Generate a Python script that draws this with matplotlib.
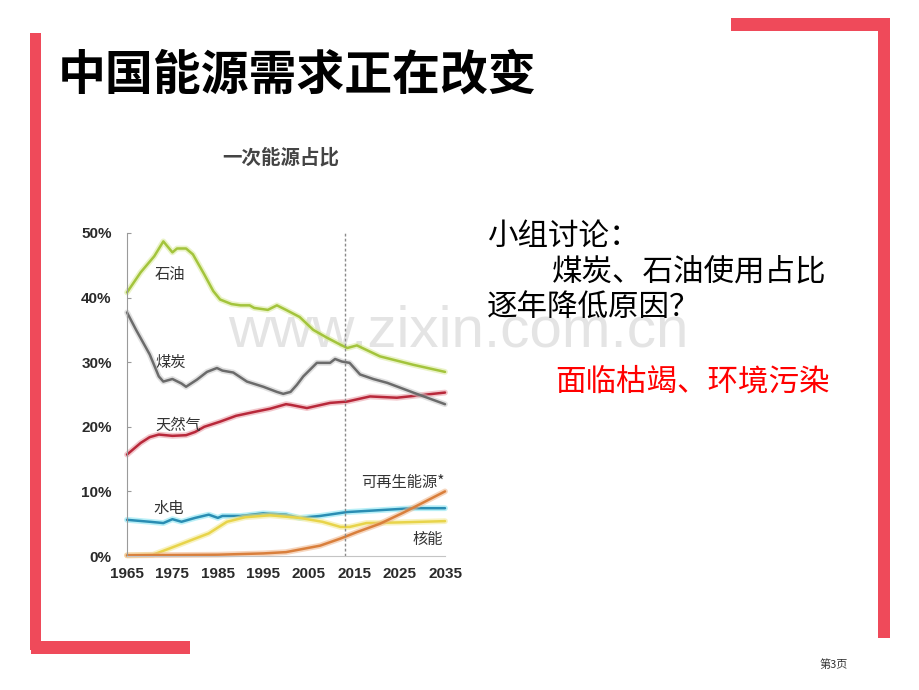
import matplotlib
matplotlib.use("Agg")
import matplotlib.pyplot as plt
from matplotlib.patches import Rectangle

plt.rcParams['font.family'] = ['Noto Sans CJK SC', 'DejaVu Sans']

# data (share of primary energy, %)
oil_years = [1965, 1968, 1971, 1973, 1975, 1976, 1978, 1979.5, 1982, 1984, 1985.5, 1988, 1990,
             1992, 1993, 1996, 1998, 2000, 2003, 2006, 2009, 2012, 2013.5, 2015.6, 2020.7, 2028, 2035]
oil = [40.8, 43.9, 46.4, 48.7, 47.0, 47.6, 47.6, 46.7, 43.6, 41.0, 39.7, 39.0, 38.8,
       38.8, 38.4, 38.1, 38.8, 38.1, 37.0, 35.0, 33.8, 32.7, 32.2, 32.6, 30.9, 29.6, 28.5]

coal_years = [1965, 1967, 1970, 1972, 1973, 1975, 1977, 1978, 1980.4, 1982.6, 1984.8, 1986, 1988.4,
              1991.4, 1995, 1998, 1999.4, 2001, 2002.4, 2003.8, 2006.8, 2009.7, 2010.8, 2012.3,
              2014, 2016.3, 2019.2, 2022.3, 2028, 2035]
coal = [37.7, 35.0, 31.2, 27.8, 27.0, 27.4, 26.7, 26.2, 27.3, 28.5, 29.1, 28.7, 28.4,
        27.0, 26.2, 25.4, 25.1, 25.4, 26.5, 27.8, 29.9, 29.9, 30.5, 30.1,
        29.9, 28.1, 27.4, 26.8, 25.3, 23.5]

gas_years = [1965, 1968, 1970, 1972, 1975, 1978, 1980, 1982, 1985.5, 1989, 1993, 1996.5, 2000,
             2001, 2004.6, 2009.7, 2013.4, 2018.5, 2024.4, 2035]
gas = [15.7, 17.5, 18.4, 18.8, 18.6, 18.7, 19.2, 20.0, 20.8, 21.7, 22.3, 22.8, 23.5,
       23.4, 22.9, 23.7, 23.9, 24.7, 24.5, 25.3]

hydro_years = [1965, 1970, 1973, 1975, 1977, 1980, 1983, 1985, 1986, 1990, 1995, 2000, 2003,
               2007.5, 2013.4, 2020.7, 2028, 2035]
hydro = [5.6, 5.3, 5.1, 5.7, 5.3, 5.9, 6.4, 5.9, 6.2, 6.2, 6.6, 6.4, 5.9,
         6.2, 6.8, 7.1, 7.4, 7.4]

nuclear_years = [1965, 1970.7, 1974.5, 1980.4, 1983, 1987, 1991, 1996.5, 2003, 2008, 2012, 2014,
                 2017.7, 2025, 2035]
nuclear = [0.1, 0.2, 1.2, 2.8, 3.5, 5.3, 6.0, 6.3, 5.9, 5.3, 4.5, 4.5, 5.1, 5.2, 5.4]

renew_years = [1965, 1985, 1990, 1995, 2000, 2003, 2007.5, 2012, 2015.6, 2020.7, 2025.8, 2030, 2035]
renew = [0.1, 0.2, 0.3, 0.4, 0.6, 1.0, 1.6, 2.7, 3.7, 5.0, 6.7, 8.2, 10.0]

x_ticks = [1965, 1975, 1985, 1995, 2005, 2015, 2025, 2035]
y_ticks = [0, 10, 20, 30, 40, 50]
outlook_year = 2013

W, H = 920, 690


def fx(x):
    return x / W


def fy(y):
    return 1 - y / H


fig = plt.figure(figsize=(9.2, 6.9), dpi=100)
fig.patch.set_facecolor('white')

# slide frame
frame_color = '#EF4A5A'
for x0, y0, x1, y1 in [(30, 33, 41, 650), (31, 641, 190, 654), (731, 18, 890, 31), (878, 18, 890, 638)]:
    fig.patches.append(Rectangle((fx(x0), fy(y1)), (x1 - x0) / W, (y1 - y0) / H,
                                 transform=fig.transFigure, color=frame_color, lw=0))

fig.text(fx(58), fy(75), '中国能源需求正在改变', fontsize=34.5, fontweight='bold',
         color='black', ha='left', va='center')

# watermark behind the chart
fig.text(fx(458), fy(347), 'www.zixin.com.cn', fontsize=42, color='#e4e4e4',
         family=['Liberation Sans', 'DejaVu Sans'],
         ha='center', va='baseline', zorder=-1)

# chart
ax = fig.add_axes([fx(127), fy(556), 318 / W, (556 - 233) / H])
ax.set_facecolor('none')

series = [
    (hydro_years, hydro, '#2a8db3', '#7fe3f2'),
    (nuclear_years, nuclear, '#e8d44a', '#f3e98f'),
    (renew_years, renew, '#d97f3c', '#f0b58a'),
    (gas_years, gas, '#b8283a', '#e89aa3'),
    (coal_years, coal, '#6b6b6b', '#c8c8c8'),
    (oil_years, oil, '#a3c43c', '#d9ea9a'),
]
for xs, ys, c, halo in series:
    ax.plot(xs, ys, color=halo, lw=4.2, alpha=0.55, solid_capstyle='round', clip_on=False)
    ax.plot(xs, ys, color=c, lw=1.8, solid_capstyle='round', clip_on=False)

ax.axvline(outlook_year, color='#8a8a8a', lw=1, ls=(0, (2, 1.6)))

ax.set_xlim(1965, 2035)
ax.set_ylim(0, 50)
ax.set_xticks(x_ticks)
ax.set_yticks(y_ticks)
ax.set_yticklabels([f'{v}%' for v in y_ticks])
for s in ['top', 'right']:
    ax.spines[s].set_visible(False)
ax.spines['left'].set_color('#9a9a9a')
ax.spines['bottom'].set_color('#c4c4c4')
ax.tick_params(axis='y', direction='in', length=3, color='#9a9a9a', pad=11,
               labelsize=11, labelcolor='#2a2a2a')
ax.tick_params(axis='x', length=0, pad=8, labelsize=11, labelcolor='#2a2a2a')
for lab in ax.get_xticklabels() + ax.get_yticklabels():
    lab.set_family(['Liberation Sans', 'DejaVu Sans'])
    lab.set_fontweight('bold')

lab_kw = dict(fontsize=11, color='#333333', transform=fig.transFigure, va='center')
fig.text(fx(155), fy(274), '石油', ha='left', **lab_kw)
fig.text(fx(155), fy(362), '煤炭', ha='left', **lab_kw)
fig.text(fx(155), fy(425), '天然气', ha='left', **lab_kw)
fig.text(fx(153), fy(508), '水电', ha='left', **lab_kw)
fig.text(fx(445), fy(482), '可再生能源*', ha='right', **lab_kw)
fig.text(fx(443), fy(539), '核能', ha='right', **lab_kw)

fig.text(fx(281), fy(158), '一次能源占比', fontsize=14, fontweight='bold', color='#444444',
         ha='center', va='center')

# discussion text
txt_kw = dict(fontsize=22, color='black', ha='left', va='center')
fig.text(fx(487), fy(236), '小组讨论：', **txt_kw)
fig.text(fx(552), fy(272), '煤炭、石油使用占比', **txt_kw)
fig.text(fx(487), fy(308), '逐年降低原因？', **txt_kw)
fig.text(fx(555), fy(382), '面临枯竭、环境污染', fontsize=22, color='#ff0000',
         ha='left', va='center')

fig.text(fx(834), fy(665), '第3页', fontsize=8, color='#333333', ha='center', va='center')

fig.savefig('out.png', dpi=100)
